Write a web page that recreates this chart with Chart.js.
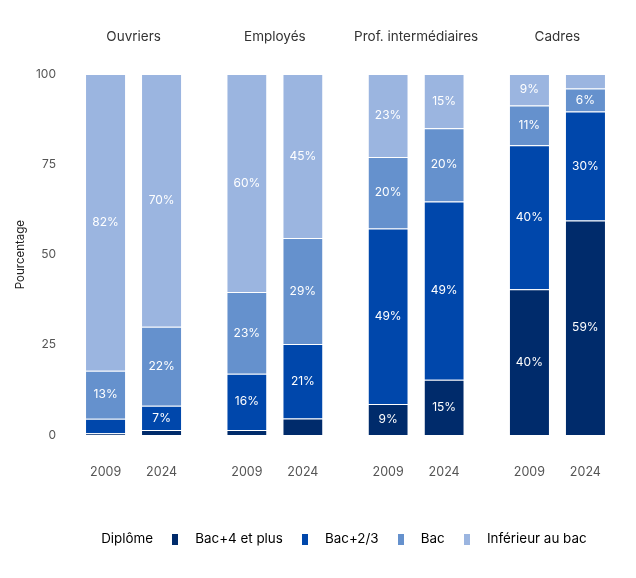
<!DOCTYPE html>
<html lang="fr">
<head>
<meta charset="utf-8">
<script src="https://cdn.jsdelivr.net/npm/chart.js@4.4.1/dist/chart.umd.min.js"></script>
<style>
  html, body { margin: 0; padding: 0; background: #fff; }
  #wrap { width: 636px; height: 578px; }
</style>
</head>
<body>
<div id="wrap"><canvas id="diplomeChart"></canvas></div>
<script>
const groups = ["Ouvriers", "Employés", "Prof. intermédiaires", "Cadres"];
const years = ["2009", "2024"];
const levels = ["Bac+4 et plus", "Bac+2/3", "Bac", "Inférieur au bac"];
const levelColors = ["#002b6b", "#0047ab", "#6591cd", "#9bb5e0"];

// parts (%) par groupe
const bac4_2009 = [0.5, 1.4, 8.6, 40.4];
const bac23_2009 = [4.0, 15.6, 48.6, 39.9];
const bac_2009 = [13.3, 22.6, 19.8, 11.0];
const inf_2009 = [82.2, 60.4, 23.0, 8.7];

const bac4_2024 = [1.4, 4.6, 15.3, 59.4];
const bac23_2024 = [6.7, 20.6, 49.4, 30.2];
const bac_2024 = [21.9, 29.4, 20.3, 6.4];
const inf_2024 = [70.0, 45.4, 15.0, 4.0];

const yTicks = [0, 25, 50, 75, 100];
const minLabel = 5;

const seriesByYear = {
    "2009": [bac4_2009, bac23_2009, bac_2009, inf_2009],
    "2024": [bac4_2024, bac23_2024, bac_2024, inf_2024],
};

const FONT = "Inter, 'Noto Sans', sans-serif";

const datasets = [];
years.forEach(year => {
    levels.forEach((name, i) => {
        datasets.push({
            label: name,
            data: seriesByYear[year][i],
            stack: year,
            backgroundColor: levelColors[i],
            borderColor: "rgba(255,255,255,0.35)",
            borderWidth: { top: 1, right: 0, bottom: 0, left: 0 },
            borderSkipped: false,
        });
    });
});

function swatch(color) {
    const c = document.createElement("canvas");
    c.width = 6;
    c.height = 11;
    const g = c.getContext("2d");
    g.fillStyle = color;
    g.fillRect(0, 0, 6, 11);
    return c;
}

// pourcentages au centre des segments
const segmentLabels = {
    id: "segmentLabels",
    afterDatasetsDraw(chart) {
        const ctx = chart.ctx;
        ctx.save();
        ctx.font = "12px " + FONT;
        ctx.fillStyle = "#ffffff";
        ctx.textAlign = "center";
        ctx.textBaseline = "middle";
        chart.data.datasets.forEach((ds, di) => {
            chart.getDatasetMeta(di).data.forEach((bar, i) => {
                const v = ds.data[i];
                if (v < minLabel) return;
                const p = bar.getCenterPoint();
                ctx.fillText(Math.round(v) + "%", p.x, p.y);
            });
        });
        ctx.restore();
    }
};

// année sous chaque barre
const yearLabels = {
    id: "yearLabels",
    afterDatasetsDraw(chart) {
        const ctx = chart.ctx;
        ctx.save();
        ctx.font = "12.5px " + FONT;
        ctx.fillStyle = "#555555";
        ctx.textAlign = "center";
        ctx.textBaseline = "middle";
        years.forEach((year, yi) => {
            const meta = chart.getDatasetMeta(yi * levels.length);
            meta.data.forEach(bar => {
                ctx.fillText(year, bar.x, chart.chartArea.bottom + 37);
            });
        });
        ctx.restore();
    }
};

new Chart(document.getElementById("diplomeChart"), {
    type: "bar",
    data: { labels: groups, datasets: datasets },
    plugins: [segmentLabels, yearLabels],
    options: {
        responsive: true,
        maintainAspectRatio: false,
        animation: false,
        layout: { padding: { top: 14, right: 8, bottom: 22, left: 26 } },
        datasets: { bar: { categoryPercentage: 0.793, barPercentage: 0.7 } },
        scales: {
            x: {
                stacked: true,
                grid: { display: false, drawTicks: false },
                border: { display: false },
                ticks: { display: false },
                afterFit: s => { s.height = 89; }
            },
            x2: {
                type: "category",
                labels: groups,
                position: "top",
                offset: true,
                grid: { display: false, drawTicks: false },
                border: { display: false },
                ticks: { padding: 29, color: "#333333", font: { family: FONT, size: 13.5 } },
                afterFit: s => { s.height = 60; }
            },
            y: {
                stacked: true,
                min: 0,
                max: 100,
                grid: { display: false, drawTicks: false },
                border: { display: false },
                afterBuildTicks: s => { s.ticks = yTicks.map(v => ({ value: v })); },
                ticks: { padding: 7, color: "#555555", font: { family: FONT, size: 12 } },
                title: {
                    display: true,
                    text: "Pourcentage",
                    color: "#222222",
                    font: { family: FONT, size: 11.5 },
                    padding: { top: -12, bottom: 0 }
                },
                afterFit: s => { s.width = 37; }
            }
        },
        plugins: {
            tooltip: { enabled: false },
            legend: {
                position: "bottom",
                onClick: null,
                labels: {
                    usePointStyle: true,
                    pointStyleWidth: 27,
                    padding: 8.5,
                    color: "#222222",
                    font: { family: FONT, size: 13.4 },
                    generateLabels: () => [
                        { text: "Diplôme", pointStyle: swatch("rgba(0,0,0,0)"), fillStyle: "rgba(0,0,0,0)", strokeStyle: "rgba(0,0,0,0)", lineWidth: 0, hidden: false },
                        ...levels.map((name, i) => ({
                            text: name,
                            pointStyle: swatch(levelColors[i]),
                            fillStyle: levelColors[i],
                            strokeStyle: levelColors[i],
                            lineWidth: 0,
                            hidden: false
                        }))
                    ]
                }
            }
        }
    }
});
</script>
</body>
</html>
